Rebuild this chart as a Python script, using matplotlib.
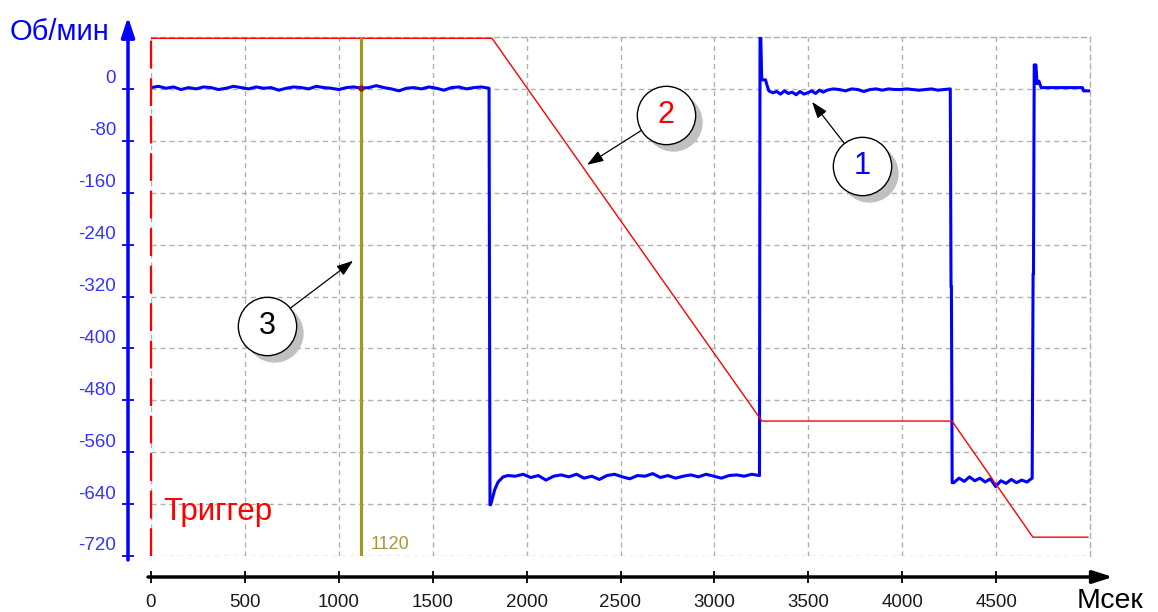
import numpy as np
import matplotlib.pyplot as plt
from matplotlib import transforms

plt.rcParams['font.family'] = ['Liberation Sans', 'DejaVu Sans']
plt.rcParams['lines.scale_dashes'] = False

# --- data -------------------------------------------------------------
# speed (blue, curve 1), Об/мин
seg_a_v = [2, 4, 1, 3, -1, 2, 0, 3, 2, -1, 1, 4, 2, 0, 3, 1, 2, -2, 1, 3,
           2, 0, 4, 2, 1, -1, 2, 3, 1, 2, 5, 2, 0, -3, 1, 2, 0, 3, 1, -2,
           2, 3, 0, 2, 3, 1]
drop1_t = [1805, 1809, 1830, 1848, 1875]
drop1_v = [-641, -641, -618, -606, -598]
seg_b_v = [-596, -597, -594, -599, -596, -603, -597, -595, -598, -594,
           -600, -597, -602, -596, -594, -598, -601, -596, -597, -593,
           -599, -596, -600, -597, -595, -598, -594, -597, -600, -596,
           -595, -597, -594, -596]
rise1_t = [3243, 3247, 3252, 3272, 3282]
rise1_v = [80, 80, 14, 14, 4]
seg_c1_v = [-3, -6, -4, -8, -3, -7, -5, -9, -4, -8, -6, -3, -7, -2, -5]
seg_c2_v = [-2, 0, -1, -3, 0, -1, -4, -1, 0, -2, 0, -1]
seg_c3_v = [-1, 0, -1, -2, -1, 0, -2, -1, 0]
drop2_t = [4260, 4262, 4266]
drop2_v = [-305, -305, -607]
seg_d_v = [-607, -600, -605, -598, -604, -600, -606, -601, -613, -604,
           -608, -602, -607, -603, -606, -600]
rise2_t = [4697, 4699, 4703, 4712, 4718, 4728, 4740, 4960, 4965, 4992]
rise2_v = [-285, -285, 37, 37, 8, 12, 2, 2, -3, -3]

# reference ramp (red, curve 2)
ramp_t = [0, 1816, 3253, 4265, 4696, 4989]
ramp_v = [78, 78, -512, -512, -691, -691]

cursor_x = 1120
cursor_label = '1120'

x_ticks = [0, 500, 1000, 1500, 2000, 2500, 3000, 3500, 4000, 4500]
y_ticks = [-720, -640, -560, -480, -400, -320, -240, -160, -80, 0]

# callouts: (number, colour, circle centre, arrow tip)
callouts = [('1', 'blue', (3786, -119), (3520, -20)),
            ('2', 'red', (2742, -40), (2322, -117)),
            ('3', 'black', (618, -365), (1076, -265))]

blue_t = np.concatenate([np.linspace(0, 1800, len(seg_a_v)), drop1_t,
                         np.linspace(1900, 3240, len(seg_b_v)), rise1_t,
                         np.linspace(3290, 3580, len(seg_c1_v)),
                         np.linspace(3600, 3960, len(seg_c2_v)),
                         np.linspace(3990, 4256, len(seg_c3_v)), drop2_t,
                         np.linspace(4275, 4692, len(seg_d_v)), rise2_t])
blue_v = np.concatenate([seg_a_v, drop1_v, seg_b_v, rise1_v, seg_c1_v,
                         seg_c2_v, seg_c3_v, drop2_v, seg_d_v, rise2_v])

# --- figure -----------------------------------------------------------
W, H = 1158, 612
fig = plt.figure(figsize=(W / 100, H / 100), dpi=100)
ax = fig.add_axes([151 / W, 1 - 556 / H, 939 / W, 519 / H])
ax.set_xlim(0, 5000)
ax.set_ylim(-720, 80)

grid_ls = (0, (3.6, 2.9))
ax.grid(True, color='#b0b0b0', linestyle=grid_ls, lw=1)
for s in ['top', 'right']:
    ax.spines[s].set_linestyle(grid_ls)
    ax.spines[s].set_color('#b0b0b0')
    ax.spines[s].set_linewidth(1)
ax.spines['left'].set_position(('outward', 23 * 0.72))
ax.spines['bottom'].set_position(('outward', 21 * 0.72))
ax.spines['left'].set_visible(False)
ax.spines['bottom'].set_visible(False)

ax.set_xticks(x_ticks)
ax.set_yticks(y_ticks)
ax.set_yticklabels([])
ax.tick_params(axis='x', direction='inout', length=8, width=1.3,
               color='black', labelsize=13.5, labelcolor='#1a1a1a', pad=8)
ax.tick_params(axis='y', direction='inout', length=8.5, width=1.3,
               color='blue')

# y tick labels sit a little above their ticks
for v in y_ticks:
    ax.annotate(str(v), xy=(0, v), xycoords=ax.get_yaxis_transform(),
                xytext=(-35, 10), textcoords='offset pixels', ha='right',
                va='center', fontsize=13.5, color='#3434ff')

# axis lines with arrow heads
def off(x, y):
    return transforms.offset_copy(ax.transAxes, fig=fig, x=x, y=y, units='dots')

ax.annotate('', xy=(0, 1), xycoords=off(-23, 20), xytext=(0, 0),
            textcoords=off(-23, -4), annotation_clip=False,
            arrowprops=dict(arrowstyle='-|>,head_length=1.2,head_width=0.4',
                            lw=2.5, color='blue', shrinkA=0, shrinkB=0,
                            mutation_scale=10))
ax.annotate('', xy=(1, 0), xycoords=off(23, -21), xytext=(0, 0),
            textcoords=off(-3, -21), annotation_clip=False,
            arrowprops=dict(arrowstyle='-|>,head_length=1.2,head_width=0.38',
                            lw=2.5, color='black', shrinkA=0, shrinkB=0,
                            mutation_scale=10))

fig.text(10 / W, 1 - 40 / H, 'Об/мин', fontsize=21, color='blue',
         va='baseline', ha='left')
fig.text(1077 / W, 1 - 608 / H, 'Мсек', fontsize=20.5, color='black',
         va='baseline', ha='left')

# traces
ax.plot(blue_t, blue_v, color='blue', lw=2.2, zorder=3)
ax.plot(ramp_t, ramp_v, color='red', lw=1, zorder=4)
ax.axvline(0, color='red', lw=1.6, linestyle=(0, (20, 7)), zorder=4,
           clip_on=False)
ax.axvline(cursor_x, color='#9e9a22', lw=2.3, zorder=5)
ax.plot([cursor_x], [2], 'o', ms=3.5, color='#8b1a1a', zorder=6)
ax.text(cursor_x + 51, -709, cursor_label, color='#a8983c', fontsize=13,
        va='baseline', ha='left')
ax.text(64, -664, 'Триггер', color='red', fontsize=22.5, va='baseline',
        ha='left')

# numbered callouts
shadow = ax.transData + transforms.ScaledTranslation(0.07, -0.07,
                                                     fig.dpi_scale_trans)
for num, col, c, tip in callouts:
    ax.plot([c[0]], [c[1]], 'o', ms=42, color='#c0c0c0', mec='none',
            transform=shadow, zorder=7)
    ax.plot([c[0]], [c[1]], 'o', ms=42, mfc='white', mec='black', mew=1,
            zorder=8)
    ax.text(c[0], c[1], num, color=col, fontsize=22, ha='center',
            va='center', zorder=9)
    ax.annotate('', xy=tip, xytext=c, zorder=8,
                arrowprops=dict(arrowstyle='-|>,head_length=1.0,head_width=0.35',
                                lw=0.9, color='black', shrinkA=21, shrinkB=0,
                                mutation_scale=10))

fig.savefig('out.png', dpi=100)
